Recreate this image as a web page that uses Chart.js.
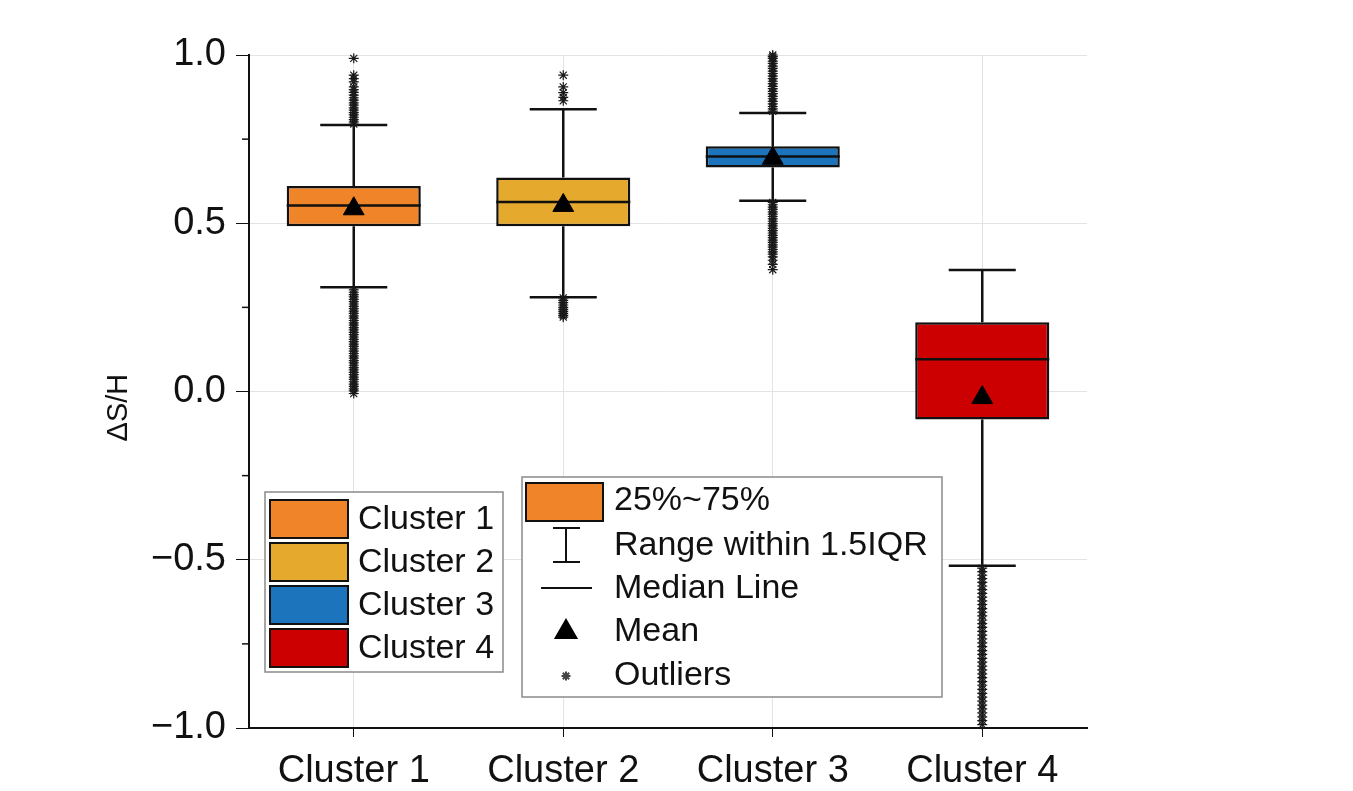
<!DOCTYPE html>
<html>
<head>
<meta charset="utf-8">
<script src="https://cdn.jsdelivr.net/npm/chart.js@4.4.0/dist/chart.umd.min.js"></script>
<style>
  html, body { margin: 0; padding: 0; background: #fff; }
  canvas { display: block; }
</style>
</head>
<body>
<canvas id="cluster_box_chart" width="1353" height="791"></canvas>
<script>
const labels = ['Cluster 1', 'Cluster 2', 'Cluster 3', 'Cluster 4'];
const boxColors = ['#EF8429', '#E5AA2D', '#1B74BC', '#CC0000'];

// box statistics
const q1 = [0.491, 0.491, 0.666, -0.083];
const q3 = [0.611, 0.636, 0.729, 0.206];
const medians = [0.553, 0.563, 0.698, 0.096];
const means = [0.543, 0.553, 0.693, -0.018];
const whiskerLow = [0.310, 0.280, 0.567, -0.518];
const whiskerHigh = [0.792, 0.839, 0.828, 0.361];

// outliers (dense columns in the figure)
const outliers1 = [0.99, 0.94, 0.93, 0.92, 0.905, 0.897, 0.889, 0.881, 0.873, 0.866, 0.858, 0.851, 0.843, 0.836,
  0.829, 0.822, 0.815, 0.808, 0.801, 0.795,
  0.302, 0.295, 0.288, 0.281, 0.274, 0.267, 0.26, 0.253, 0.246, 0.239, 0.232, 0.225, 0.218, 0.211, 0.204,
  0.197, 0.19, 0.183, 0.176, 0.169, 0.162, 0.155, 0.148, 0.141, 0.134, 0.127, 0.12, 0.113, 0.106, 0.099,
  0.092, 0.085, 0.078, 0.071, 0.064, 0.057, 0.05, 0.043, 0.036, 0.029, 0.022, 0.015, 0.008, 0.002, -0.006];
const outliers2 = [0.94, 0.905, 0.888, 0.874, 0.864,
  0.278, 0.271, 0.264, 0.257, 0.25, 0.244, 0.238, 0.232, 0.226, 0.221];
const outliers3 = [1.0, 0.995, 0.99, 0.982, 0.975, 0.967, 0.96, 0.952, 0.945, 0.937, 0.93, 0.922, 0.915, 0.907,
  0.9, 0.892, 0.885, 0.877, 0.87, 0.862, 0.855, 0.847, 0.84, 0.833,
  0.562, 0.555, 0.548, 0.541, 0.534, 0.527, 0.52, 0.513, 0.506, 0.499, 0.492, 0.485, 0.478, 0.471, 0.464,
  0.457, 0.45, 0.443, 0.436, 0.429, 0.422, 0.415, 0.408, 0.4, 0.39, 0.378, 0.362];
const outliers4 = [-0.525, -0.535, -0.546, -0.556, -0.567, -0.578, -0.589, -0.6, -0.611, -0.622, -0.633, -0.645,
  -0.656, -0.667, -0.679, -0.69, -0.701, -0.713, -0.724, -0.735, -0.747, -0.758, -0.77, -0.781, -0.793,
  -0.804, -0.816, -0.827, -0.839, -0.85, -0.862, -0.873, -0.885, -0.897, -0.908, -0.92, -0.932, -0.943,
  -0.955, -0.967, -0.978, -0.99];
const outliers = [outliers1, outliers2, outliers3, outliers4];

const legendItems = ['25%~75%', 'Range within 1.5IQR', 'Median Line', 'Mean', 'Outliers'];

const FONT = '"Liberation Sans", Arial, sans-serif';
const INK = '#111';

function isMajor(v) {
    return Math.abs(v * 2 - Math.round(v * 2)) < 1e-6;
}

var outlierPoints = [];
outliers.forEach(function(list, i) {
    list.forEach(function(v) { outlierPoints.push({x: labels[i], y: v}); });
});

const boxExtras = {
    id: 'boxExtras',
    beforeDatasetsDraw(chart) {
        // whiskers
        const ctx = chart.ctx, xs = chart.scales.x, ys = chart.scales.y;
        const bars = chart.getDatasetMeta(2).data;
        ctx.save();
        ctx.strokeStyle = INK;
        ctx.lineWidth = 2.5;
        labels.forEach(function(l, i) {
            const cx = xs.getPixelForValue(i);
            const half = bars[i].width / 4;
            const yHi = ys.getPixelForValue(whiskerHigh[i]);
            const yLo = ys.getPixelForValue(whiskerLow[i]);
            ctx.beginPath();
            ctx.moveTo(cx, ys.getPixelForValue(q3[i])); ctx.lineTo(cx, yHi);
            ctx.moveTo(cx, ys.getPixelForValue(q1[i])); ctx.lineTo(cx, yLo);
            ctx.moveTo(cx - half, yHi); ctx.lineTo(cx + half, yHi);
            ctx.moveTo(cx - half, yLo); ctx.lineTo(cx + half, yLo);
            ctx.stroke();
        });
        ctx.restore();
    },
    afterDatasetDraw(chart, args) {
        if (args.index !== 2) return;
        // median lines
        const ctx = chart.ctx, ys = chart.scales.y;
        const bars = chart.getDatasetMeta(2).data;
        ctx.save();
        ctx.strokeStyle = INK;
        ctx.lineWidth = 2.5;
        bars.forEach(function(bar, i) {
            const y = ys.getPixelForValue(medians[i]);
            ctx.beginPath();
            ctx.moveTo(bar.x - bar.width / 2, y);
            ctx.lineTo(bar.x + bar.width / 2, y);
            ctx.stroke();
        });
        ctx.restore();
    },
    afterDraw(chart) {
        const ctx = chart.ctx, ys = chart.scales.y;
        ctx.save();
        // minor ticks on the y axis
        ctx.strokeStyle = INK;
        ctx.lineWidth = 1.5;
        [-0.75, -0.25, 0.25, 0.75].forEach(function(v) {
            const y = ys.getPixelForValue(v);
            ctx.beginPath();
            ctx.moveTo(ys.right - 7, y);
            ctx.lineTo(ys.right, y);
            ctx.stroke();
        });

        ctx.font = '34px ' + FONT;
        ctx.textBaseline = 'middle';
        ctx.textAlign = 'left';

        // cluster legend
        ctx.fillStyle = '#fff';
        ctx.fillRect(265, 492, 238, 180);
        ctx.strokeStyle = '#8a8a8a';
        ctx.lineWidth = 1.5;
        ctx.strokeRect(265, 492, 238, 180);
        labels.forEach(function(l, i) {
            const top = 500 + i * 43;
            ctx.fillStyle = boxColors[i];
            ctx.fillRect(270, top, 78, 38);
            ctx.strokeStyle = INK;
            ctx.lineWidth = 2;
            ctx.strokeRect(270, top, 78, 38);
            ctx.fillStyle = INK;
            ctx.fillText(l, 358, top + 20);
        });

        // symbol legend
        ctx.fillStyle = '#fff';
        ctx.fillRect(522, 477, 420, 220);
        ctx.strokeStyle = '#8a8a8a';
        ctx.lineWidth = 1.5;
        ctx.strokeRect(522, 477, 420, 220);

        ctx.fillStyle = boxColors[0];
        ctx.fillRect(526, 483, 77, 38);
        ctx.strokeStyle = INK;
        ctx.lineWidth = 2;
        ctx.strokeRect(526, 483, 77, 38);

        ctx.lineWidth = 2;
        ctx.beginPath();
        ctx.moveTo(566, 528); ctx.lineTo(566, 562);
        ctx.moveTo(553, 528); ctx.lineTo(580, 528);
        ctx.moveTo(553, 562); ctx.lineTo(580, 562);
        ctx.moveTo(541, 588); ctx.lineTo(592, 588);
        ctx.stroke();

        ctx.fillStyle = '#000';
        ctx.strokeStyle = '#000';
        Chart.helpers.drawPoint(ctx, {pointStyle: 'triangle', radius: 12, borderWidth: 1}, 566, 632);
        ctx.strokeStyle = '#444';
        Chart.helpers.drawPoint(ctx, {pointStyle: 'star', radius: 4.5, borderWidth: 1}, 566, 676);

        ctx.fillStyle = INK;
        const rowY = [501, 546, 589, 632, 676];
        legendItems.forEach(function(t, i) {
            ctx.fillText(t, 614, rowY[i]);
        });
        ctx.restore();
    }
};

var ctx_box = document.getElementById('cluster_box_chart').getContext('2d');
var boxChart = new Chart(ctx_box, {
    type: 'bar',
    data: {
        labels: labels,
        datasets: [{
            type: 'line',
            label: 'Mean',
            data: means.map(function(v, i) { return {x: labels[i], y: v}; }),
            showLine: false,
            pointStyle: 'triangle',
            pointRadius: 12,
            pointBackgroundColor: '#000',
            pointBorderColor: '#000',
            pointBorderWidth: 1
        }, {
            type: 'line',
            label: 'Outliers',
            data: outlierPoints,
            showLine: false,
            clip: false,
            pointStyle: 'star',
            pointRadius: 5,
            pointBorderColor: '#1a1a1a',
            pointBackgroundColor: 'transparent',
            pointBorderWidth: 1.2
        }, {
            type: 'bar',
            label: '25%~75%',
            data: labels.map(function(l, i) { return [q1[i], q3[i]]; }),
            backgroundColor: boxColors,
            borderColor: INK,
            borderWidth: 2.5,
            borderSkipped: false,
            categoryPercentage: 1,
            barPercentage: 0.64
        }]
    },
    options: {
        responsive: false,
        animation: false,
        events: [],
        layout: {
            padding: {top: 55, right: 266, left: 0, bottom: 0}
        },
        plugins: {
            legend: {display: false},
            tooltip: {enabled: false},
            title: {display: false}
        },
        scales: {
            x: {
                grid: {
                    offset: false,
                    color: '#e3e3e3',
                    tickColor: INK,
                    tickLength: 9
                },
                border: {color: INK, width: 2},
                ticks: {
                    padding: 12,
                    color: INK,
                    font: {family: FONT, size: 38}
                },
                afterFit: function(scale) { scale.height = 63; }
            },
            y: {
                min: -1,
                max: 1,
                grid: {
                    color: function(c) { return isMajor(c.tick.value) ? '#e3e3e3' : 'transparent'; },
                    tickColor: function(c) { return isMajor(c.tick.value) ? INK : 'transparent'; },
                    tickLength: 13
                },
                border: {color: INK, width: 2},
                ticks: {
                    stepSize: 0.25,
                    autoSkip: false,
                    padding: 10,
                    color: INK,
                    font: {family: FONT, size: 38},
                    callback: function(v) {
                        if (!isMajor(v)) return '';
                        return (v < 0 ? '\u2212' : '') + Math.abs(v).toFixed(1);
                    }
                },
                title: {
                    display: true,
                    text: 'ΔS/H\u00a0\u00a0\u00a0\u00a0',
                    color: INK,
                    font: {family: FONT, size: 29},
                    padding: {top: 102}
                },
                afterFit: function(scale) { scale.width = 249; }
            }
        }
    },
    plugins: [boxExtras]
});
</script>
</body>
</html>
